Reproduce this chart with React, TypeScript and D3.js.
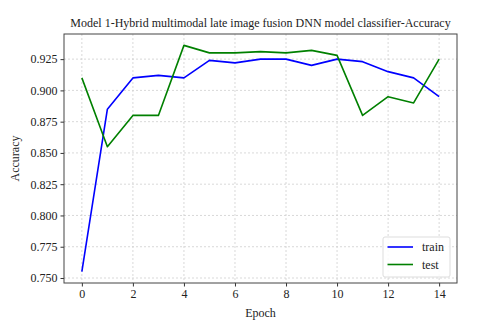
import React, { useEffect, useRef } from 'react';
import * as d3 from 'd3';

const epochs = [0, 1, 2, 3, 4, 5, 6, 7, 8, 9, 10, 11, 12, 13, 14];
const trainAcc = [0.755, 0.885, 0.910, 0.912, 0.910, 0.924, 0.922, 0.925, 0.925, 0.920, 0.925, 0.923, 0.915, 0.910, 0.895];
const testAcc = [0.910, 0.855, 0.880, 0.880, 0.936, 0.930, 0.930, 0.931, 0.930, 0.932, 0.928, 0.880, 0.895, 0.890, 0.925];
const xTicks = [0, 2, 4, 6, 8, 10, 12, 14];
const yTicks = [0.75, 0.775, 0.8, 0.825, 0.85, 0.875, 0.9, 0.925];
const seriesNames = ['train', 'test'];
const seriesColors = ['#0000ff', '#008000'];

const FONT = '"Liberation Serif", "DejaVu Serif", serif';

function AccuracyChart() {
  const svgRef = useRef<SVGSVGElement>(null);

  useEffect(() => {
    const svg = d3.select(svgRef.current);
    svg.selectAll('*').remove();

    const width = 480;
    const height = 331;
    const margin = { top: 34, right: 23, bottom: 48, left: 64 };
    const innerWidth = width - margin.left - margin.right;
    const innerHeight = height - margin.top - margin.bottom;

    const x = d3.scaleLinear().domain([-0.7, 14.7]).range([0, innerWidth]);
    const y = d3.scaleLinear().domain([0.7460, 0.9451]).range([innerHeight, 0]);

    svg.append('rect').attr('width', width).attr('height', height).attr('fill', '#fff');

    const chart = svg.append('g').attr('transform', `translate(${margin.left},${margin.top})`);

    // grid
    chart.append('g')
      .selectAll('line')
      .data(xTicks)
      .enter()
      .append('line')
      .attr('x1', (d) => x(d)).attr('x2', (d) => x(d))
      .attr('y1', 0).attr('y2', innerHeight)
      .attr('stroke', '#cfcfcf').attr('stroke-width', 0.8).attr('stroke-dasharray', '2,2');
    chart.append('g')
      .selectAll('line')
      .data(yTicks)
      .enter()
      .append('line')
      .attr('x1', 0).attr('x2', innerWidth)
      .attr('y1', (d) => y(d)).attr('y2', (d) => y(d))
      .attr('stroke', '#cfcfcf').attr('stroke-width', 0.8).attr('stroke-dasharray', '2,2');

    // lines
    const line = d3.line<number>()
      .x((_, i) => x(epochs[i]))
      .y((d) => y(d));
    [trainAcc, testAcc].forEach((vals, i) => {
      chart.append('path')
        .datum(vals)
        .attr('d', line)
        .attr('fill', 'none')
        .attr('stroke', seriesColors[i])
        .attr('stroke-width', 1.6)
        .attr('stroke-linejoin', 'round');
    });

    // axes
    const xAxis = d3.axisBottom(x).tickValues(xTicks).tickSize(3.5).tickPadding(3).tickFormat(d3.format('d'));
    const yAxis = d3.axisLeft(y).tickValues(yTicks).tickSize(3.5).tickPadding(3).tickFormat(d3.format('.3f'));

    const gx = chart.append('g').attr('transform', `translate(0,${innerHeight})`).call(xAxis);
    const gy = chart.append('g').call(yAxis);
    [gx, gy].forEach((g) => {
      g.select('.domain').remove();
      g.selectAll('line').attr('stroke', '#333');
      g.selectAll('text').attr('font-family', FONT).attr('font-size', 12).attr('fill', '#222');
    });

    chart.append('rect')
      .attr('width', innerWidth).attr('height', innerHeight)
      .attr('fill', 'none').attr('stroke', '#444').attr('stroke-width', 1);

    // legend
    const lg = chart.append('g').attr('transform', `translate(${innerWidth - 74},${innerHeight - 46})`);
    lg.append('rect')
      .attr('width', 67).attr('height', 40).attr('rx', 2)
      .attr('fill', '#fff').attr('fill-opacity', 0.85)
      .attr('stroke', '#ddd');
    seriesNames.forEach((name, i) => {
      const yy = 10 + i * 17.5;
      lg.append('line')
        .attr('x1', 4.5).attr('x2', 30)
        .attr('y1', yy).attr('y2', yy)
        .attr('stroke', seriesColors[i]).attr('stroke-width', 1.6);
      lg.append('text')
        .attr('x', 39).attr('y', yy).attr('dy', '0.35em')
        .attr('font-family', FONT).attr('font-size', 12).attr('fill', '#222')
        .text(name);
    });

    // labels
    svg.append('text')
      .attr('x', margin.left + innerWidth / 2).attr('y', 27)
      .attr('text-anchor', 'middle')
      .attr('font-family', FONT).attr('font-size', 12).attr('fill', '#222')
      .text('Model 1-Hybrid multimodal late image fusion DNN model classifier-Accuracy');
    svg.append('text')
      .attr('x', margin.left + innerWidth / 2).attr('y', 317)
      .attr('text-anchor', 'middle')
      .attr('font-family', FONT).attr('font-size', 12).attr('fill', '#222')
      .text('Epoch');
    svg.append('text')
      .attr('transform', `translate(15,${margin.top + innerHeight / 2}) rotate(-90)`)
      .attr('text-anchor', 'middle').attr('dy', '0.35em')
      .attr('font-family', FONT).attr('font-size', 12).attr('fill', '#222')
      .text('Accuracy');

    return () => { svg.selectAll('*').remove(); };
  }, []);

  return <svg ref={svgRef} width={480} height={331} style={{ display: 'block' }}></svg>;
}

export default function App() {
  return (
    <div style={{ position: 'absolute', left: 0, top: 0 }}>
      <AccuracyChart />
    </div>
  );
}
